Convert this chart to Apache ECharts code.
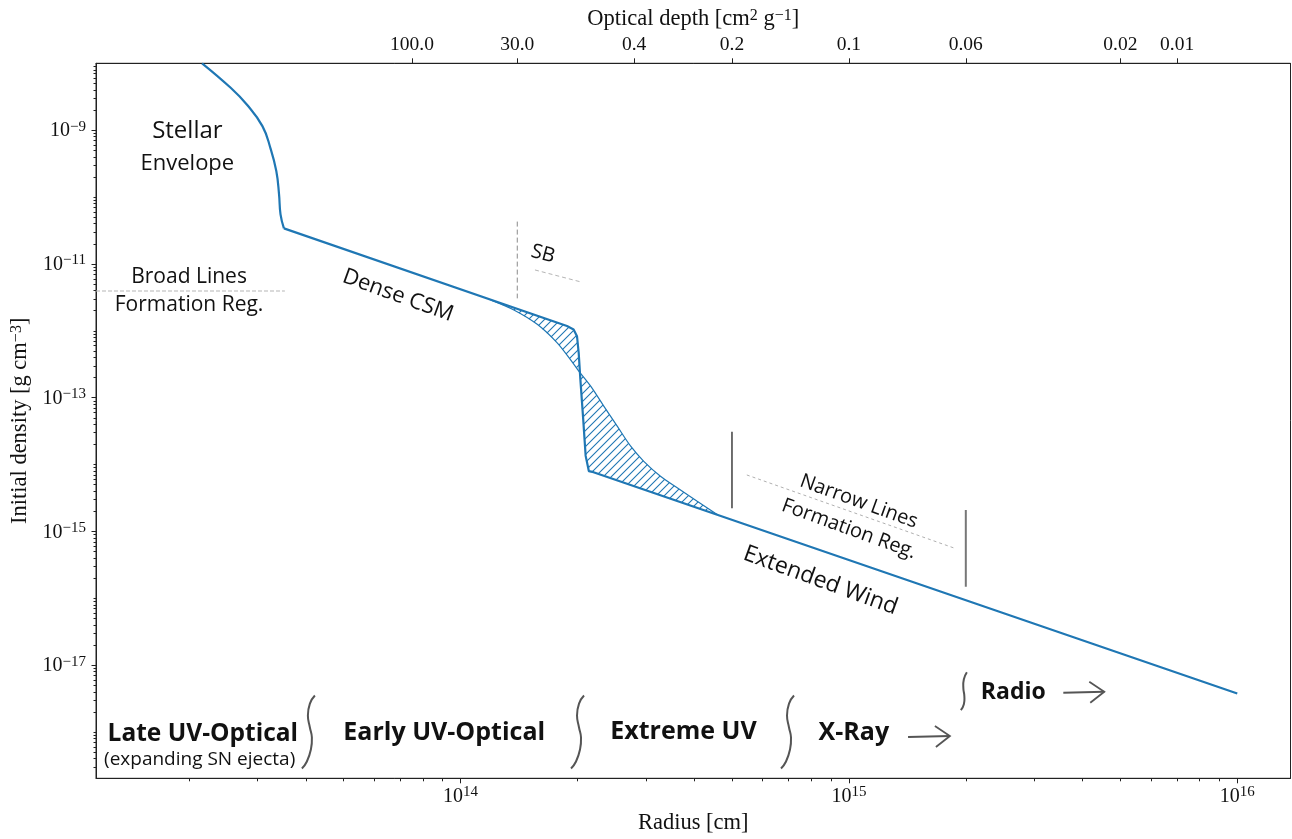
<!DOCTYPE html>
<html><head><meta charset="utf-8">
<script src="https://cdn.jsdelivr.net/npm/echarts@6/dist/echarts.min.js"></script>
<style>html,body{margin:0;padding:0;background:#fff}#c{width:1292px;height:839px}</style>
</head><body><div id="c"></div>
<script>
// ---------------- data ----------------
// main density profile: radius [cm] and initial density [g cm^-3]
const profileRadius  = [2.16e13, 2.56e13, 2.82e13, 3.09e13, 3.24e13, 3.355e13, 3.41e13, 3.44e13, 3.51e13,
                        1.88e14, 1.955e14, 1.995e14, 2.015e14, 2.035e14, 2.07e14, 2.10e14, 2.14e14, 2.20e14, 1.0e16];
const profileDensity = [1.0e-8, 4.3e-9, 2.4e-9, 1.15e-9, 5.4e-10, 2.45e-10, 1.1e-10, 5.5e-11, 3.4e-11,
                        1.18e-12, 1.05e-12, 8.3e-13, 4.7e-13, 1.9e-13, 4.7e-14, 1.35e-14, 8.0e-15, 7.7e-15, 3.77e-18];
const envelopeEndIndex = 8; // index of the envelope / dense-CSM kink in the profile arrays
// smooth alternative profile (other edge of the hatched region)
const smoothRadius  = [1.195e14, 1.372e14, 1.576e14, 1.774e14, 1.919e14, 2.016e14, 2.161e14, 2.338e14,
                       2.532e14, 2.739e14, 2.964e14, 3.272e14, 3.613e14, 4.068e14, 4.58e14];
const smoothDensity = [2.9e-12, 2.05e-12, 1.25e-12, 6.6e-13, 3.7e-13, 2.5e-13, 1.5e-13, 7.5e-14,
                       3.75e-14, 1.9e-14, 1.12e-14, 6.7e-15, 4.5e-15, 2.83e-15, 1.8e-15];
// axis ticks
const radiusTickExponents  = [14, 15, 16];
const densityTickExponents = [-9, -11, -13, -15, -17];
const depthTickRadius = [7.5e13, 1.4e14, 2.8e14, 5.0e14, 1.0e15, 2.0e15, 5.0e15, 7.0e15];
const depthTickLabels = ['100.0', '30.0', '0.4', '0.2', '0.1', '0.06', '0.02', '0.01'];
const radiusRange  = [1.152e13, 1.371e16];
const densityRange = [2.04e-19, 1.0e-8];
// guide lines (radius, density endpoints)
const guideBroad   = [[1.152e13, 3.94e-12], [3.53e13, 3.94e-12]];
const guideSBv     = [[1.4e14, 4.3e-11], [1.4e14, 3.06e-12]];
const guideSBs     = [[1.555e14, 8.13e-12], [2.03e14, 5.43e-12]];
const guideNarrow  = [[5.46e14, 7.0e-15], [1.875e15, 5.6e-16]];
const guideV1      = [[5.0e14, 3.1e-14], [5.0e14, 2.22e-15]];
const guideV2      = [[2.0e15, 2.09e-15], [2.0e15, 1.49e-16]];

// ---------------- build ----------------
const L = Math.log10;
const xMin = L(radiusRange[0]), xMax = L(radiusRange[1]);
const yMin = L(densityRange[0]), yMax = L(densityRange[1]);
const toPts = (Rs, rs) => Rs.map((r, i) => [L(r), L(rs[i])]);
const profilePts = toPts(profileRadius, profileDensity);
const envelopePts = profilePts.slice(0, envelopeEndIndex + 1);
const outerPts = profilePts.slice(envelopeEndIndex);
const smoothPts = toPts(smoothRadius, smoothDensity);
const inner = profilePts.filter(p => p[0] > smoothPts[0][0] && p[0] < smoothPts[smoothPts.length - 1][0]);
const hatchPoly = smoothPts.concat(inner.slice().reverse());

function minorVals(lo, hi, majors) {
  const out = [];
  for (let n = Math.floor(lo) - 1; n <= Math.ceil(hi); n++) {
    for (let k = 1; k < 10; k++) {
      const v = n + L(k);
      if (v > lo + 1e-9 && v < hi - 1e-9 && !majors.some(m => Math.abs(m - v) < 1e-9)) out.push(v);
    }
  }
  return out;
}

const SERIF = 'Liberation Serif';
const INK = '#111';
const BLUE = '#1f77b4';
const tickRich = {
  b: {fontFamily: SERIF, fontSize: 20, color: INK, verticalAlign: 'bottom', lineHeight: 22},
  s: {fontFamily: SERIF, fontSize: 15, color: INK, verticalAlign: 'top'}
};
const nameStyle = {
  fontFamily: SERIF, fontSize: 22.5, color: INK,
  rich: {s: {fontFamily: SERIF, fontSize: 16, color: INK, verticalAlign: 'top'}}
};

const pc = document.createElement('canvas');
pc.width = 8; pc.height = 8;
const g2 = pc.getContext('2d');
g2.strokeStyle = BLUE; g2.lineWidth = 1.1;
g2.beginPath();
g2.moveTo(0, 8); g2.lineTo(8, 0);
g2.moveTo(-2, 2); g2.lineTo(2, -2);
g2.moveTo(6, 10); g2.lineTo(10, 6);
g2.stroke();
const hatchPattern = {image: pc, repeat: 'repeat'};

function guide(pts, color, width, type) {
  return {
    type: 'line', xAxisIndex: 0, yAxisIndex: 0, data: pts.map(p => [L(p[0]), L(p[1])]),
    showSymbol: false, symbol: 'none', silent: true, z: 4,
    lineStyle: {color: color, width: width, type: type}
  };
}

const chart = echarts.init(document.getElementById('c'), null, {renderer: 'canvas'});
const option = {
  animation: false,
  backgroundColor: '#fff',
  grid: {left: 96, right: 1.5, top: 63.3, bottom: 60.7, show: true, borderColor: '#222', borderWidth: 1,
         outerBoundsMode: 'none', containLabel: false},
  xAxis: [
    {type: 'value', min: xMin, max: xMax, position: 'bottom',
     axisLine: {show: true, onZero: false, lineStyle: {color: '#222', width: 1}},
     axisTick: {show: true, length: 5, customValues: radiusTickExponents, lineStyle: {color: '#222'}},
     axisLabel: {customValues: radiusTickExponents, margin: 6, formatter: v => '{b|10}{s|' + Math.round(v) + '}', rich: tickRich},
     splitLine: {show: false},
     name: 'Radius [cm]', nameLocation: 'middle', nameGap: 30, nameTextStyle: nameStyle},
    {type: 'value', min: xMin, max: xMax, position: 'bottom',
     axisLine: {show: false, onZero: false},
     axisTick: {show: true, length: 3, customValues: minorVals(xMin, xMax, radiusTickExponents), lineStyle: {color: '#222'}},
     axisLabel: {show: false}, splitLine: {show: false}},
    {type: 'value', min: xMin, max: xMax, position: 'top',
     axisLine: {show: true, onZero: false, lineStyle: {color: '#222', width: 1}},
     axisTick: {show: true, length: 5, customValues: depthTickRadius.map(L), lineStyle: {color: '#222'}},
     axisLabel: {customValues: depthTickRadius.map(L), margin: 8, fontFamily: SERIF, fontSize: 19.5, color: INK,
       formatter: v => {
         let bi = 0, bd = 1e9;
         depthTickRadius.forEach((r, i) => { const d = Math.abs(L(r) - v); if (d < bd) { bd = d; bi = i; } });
         return depthTickLabels[bi];
       }},
     splitLine: {show: false},
     name: 'Optical depth [cm{s|2} g{s|−1}]', nameLocation: 'middle', nameGap: 33, nameTextStyle: nameStyle}
  ],
  yAxis: [
    {type: 'value', min: yMin, max: yMax, position: 'left',
     axisLine: {show: true, onZero: false, lineStyle: {color: '#222', width: 1}},
     axisTick: {show: true, length: 4.5, customValues: densityTickExponents, lineStyle: {color: '#222'}},
     axisLabel: {customValues: densityTickExponents, margin: 10, formatter: v => '{b|10}{s|−' + Math.abs(Math.round(v)) + '}', rich: tickRich},
     splitLine: {show: false},
     name: 'Initial density [g cm{s|−3}]', nameLocation: 'middle', nameRotate: 90, nameGap: 63, nameTextStyle: nameStyle},
    {type: 'value', min: yMin, max: yMax, position: 'left',
     axisLine: {show: false, onZero: false},
     axisTick: {show: true, length: 2.5, customValues: minorVals(yMin, yMax, densityTickExponents), lineStyle: {color: '#222'}},
     axisLabel: {show: false}, splitLine: {show: false}}
  ],
  series: [
    {type: 'custom', xAxisIndex: 0, yAxisIndex: 0, silent: true, z: 1, clip: true,
     data: [hatchPoly[0]],
     renderItem: (params, api) => ({
       type: 'polygon',
       shape: {points: hatchPoly.map(p => api.coord(p))},
       style: {fill: hatchPattern, stroke: null}
     })},
    {type: 'line', xAxisIndex: 0, yAxisIndex: 0, data: smoothPts, showSymbol: false, symbol: 'none', silent: true, z: 2,
     smooth: 0.3, lineStyle: {color: BLUE, width: 1.2}},
    {type: 'line', xAxisIndex: 0, yAxisIndex: 0, data: envelopePts, showSymbol: false, symbol: 'none', silent: true, z: 3,
     smooth: 0.45, lineStyle: {color: BLUE, width: 2.2, join: 'round'}},
    {type: 'line', xAxisIndex: 0, yAxisIndex: 0, data: outerPts, showSymbol: false, symbol: 'none', silent: true, z: 3,
     lineStyle: {color: BLUE, width: 2.2, join: 'round'}},
    guide(guideBroad, '#b5b5b5', 1, [4, 2]),
    guide(guideSBv, '#8a8a8a', 1, [5, 3]),
    guide(guideSBs, '#b5b5b5', 1, [4, 3]),
    guide(guideNarrow, '#b0b0b0', 1, [3, 3]),
    guide(guideV1, '#222', 1.3, 'solid'),
    guide(guideV2, '#777', 2, 'solid')
  ]
};
chart.setOption(option);

// ---------------- annotations ----------------
const P = (R, rho) => chart.convertToPixel({xAxisIndex: 0, yAxisIndex: 0}, [L(R), L(rho)]);
const SANS = "'Open Sans'";
const notes = [
  {t: 'Stellar', R: 1.98e13, rho: 9.7e-10, rot: 0, f: '24px ' + SANS},
  {t: 'Envelope', R: 1.98e13, rho: 3.2e-10, rot: 0, f: '22px ' + SANS},
  {t: 'Broad Lines', R: 2.0e13, rho: 6.3e-12, rot: 0, f: '21px ' + SANS},
  {t: 'Formation Reg.', R: 2.0e13, rho: 2.43e-12, rot: 0, f: '21px ' + SANS},
  {t: 'Dense CSM', R: 6.9e13, rho: 3.37e-12, rot: 20, f: '22px ' + SANS},
  {t: 'SB', R: 1.63e14, rho: 1.41e-11, rot: 15, f: '20px ' + SANS},
  {t: 'Narrow Lines', R: 1.06e15, rho: 2.8e-15, rot: 20, f: '20px ' + SANS},
  {t: 'Formation Reg.', R: 1.0e15, rho: 1.09e-15, rot: 20, f: '20px ' + SANS},
  {t: 'Extended Wind', R: 8.45e14, rho: 1.84e-16, rot: 20, f: '23px ' + SANS},
  {t: 'Late UV-Optical', R: 2.17e13, rho: 9.4e-19, rot: 0, f: 'bold 24.5px ' + SANS},
  {t: '(expanding SN ejecta)', R: 2.13e13, rho: 3.83e-19, rot: 0, f: '19px ' + SANS},
  {t: 'Early UV-Optical', R: 9.08e13, rho: 9.7e-19, rot: 0, f: 'bold 25px ' + SANS},
  {t: 'Extreme UV', R: 3.75e14, rho: 1.0e-18, rot: 0, f: 'bold 25px ' + SANS},
  {t: 'X-Ray', R: 1.03e15, rho: 9.7e-19, rot: 0, f: 'bold 25px ' + SANS},
  {t: 'Radio', R: 2.65e15, rho: 3.98e-18, rot: 0, f: 'bold 23px ' + SANS}
];
const braces = [
  {R: 4.07e13, rho: 1.02e-18, big: true},
  {R: 2.007e14, rho: 1.02e-18, big: true},
  {R: 6.97e14, rho: 1.02e-18, big: true},
  {R: 1.977e15, rho: 4.09e-18, big: false}
];
const arrows = [
  {R1: 1.42e15, R2: 1.82e15, rho: 8.45e-19},
  {R1: 3.565e15, R2: 4.545e15, rho: 3.88e-18}
];
const bigBrace = [[6, -36], [1, -28], [-1, -16], [1, -4], [3, 6], [2, 18], [-2, 30], [-7, 37]];
const smallBrace = [[3, -19], [0, -12], [-0.5, -3], [0.5, 5], [0, 13], [-3, 19]];
const gfx = [];
notes.forEach(n => {
  const [x, y] = P(n.R, n.rho);
  gfx.push({type: 'text', x: x, y: y, rotation: -n.rot * Math.PI / 180, z: 20, silent: true,
    style: {text: n.t, font: n.f, fill: INK, align: 'center', verticalAlign: 'middle'}});
});
braces.forEach(b => {
  const [x, y] = P(b.R, b.rho);
  gfx.push({type: 'polyline', x: x, y: y, z: 20, silent: true,
    shape: {points: b.big ? bigBrace : smallBrace, smooth: 0.5},
    style: {stroke: '#555', lineWidth: 2, fill: null}});
});
arrows.forEach(a => {
  const [x1, y1] = P(a.R1, a.rho);
  const [x2, y2] = P(a.R2, a.rho);
  gfx.push({type: 'polyline', z: 20, silent: true, shape: {points: [[x1, y1], [x2, y2 - 1]]},
    style: {stroke: '#555', lineWidth: 1.8, fill: null}});
  gfx.push({type: 'polyline', z: 20, silent: true, shape: {points: [[x2 - 15, y2 - 11], [x2, y2 - 1], [x2 - 14, y2 + 10]]},
    style: {stroke: '#555', lineWidth: 1.8, fill: null}});
});
chart.setOption({graphic: gfx});
</script>
</body></html>
